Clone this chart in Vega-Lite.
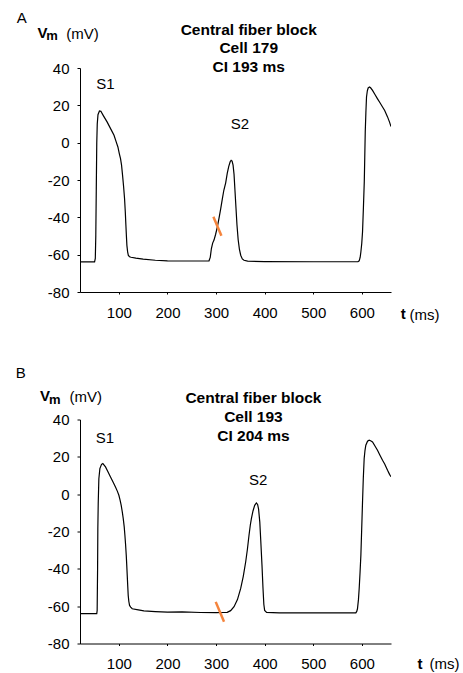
{
  "$schema": "https://vega.github.io/schema/vega-lite/v6.json",
  "autosize": {"type": "pad"},
  "padding": {"left": 15, "top": 10, "right": 4, "bottom": 4},
  "background": "white",
  "bounds": "flush",
  "spacing": 127.5,
  "config": {
    "view": {"stroke": null},
    "font": "Liberation Sans",
    "axis": {"domainColor": "#000", "tickColor": "#000", "labelColor": "#000", "titleColor": "#000", "labelFontSize": 15, "titleFontSize": 15, "titleFontWeight": "normal", "grid": false, "labelFont": "Liberation Sans", "titleFont": "Liberation Sans", "domainWidth": 1, "tickWidth": 1, "labelExpr": "toString(datum.value)"},
    "axisX": {"tickSize": 2, "labelPadding": 11},
    "axisY": {"tickSize": 3, "labelPadding": 8},
    "text": {"font": "Liberation Sans", "color": "#000"}
  },
  "datasets": {
    "traceA": [
      {"t":20,"v":-63.9},{"t":50,"v":-63.9},{"t":51.5,"v":-62},{"t":52.5,"v":-50},{"t":53.5,"v":-25},{"t":54.5,"v":0},{"t":55.5,"v":10},{"t":57,"v":15},{"t":60,"v":17},{"t":63,"v":16.8},{"t":68,"v":14.5},{"t":76,"v":11},{"t":84,"v":7},{"t":90,"v":4},{"t":95,"v":0},{"t":98,"v":-2.3},{"t":101,"v":-6},{"t":103.4,"v":-8.6},{"t":105.5,"v":-12},{"t":107.6,"v":-17.5},{"t":109.7,"v":-23.5},{"t":111.7,"v":-30},{"t":113.2,"v":-37},{"t":114.4,"v":-44},{"t":115.5,"v":-50},{"t":116.5,"v":-55},{"t":118,"v":-58.5},{"t":119.5,"v":-60.4},{"t":122,"v":-61.1},{"t":125,"v":-61.4},{"t":135,"v":-61.9},{"t":150,"v":-62.4},{"t":175,"v":-63},{"t":200,"v":-63.3},{"t":250,"v":-63.4},{"t":285.5,"v":-63.3},{"t":288,"v":-61.5},{"t":290.4,"v":-56.7},{"t":293,"v":-53.8},{"t":295.8,"v":-52.2},{"t":299,"v":-49.2},{"t":302.8,"v":-45},{"t":306,"v":-40.5},{"t":309.6,"v":-35.3},{"t":313,"v":-30},{"t":316,"v":-25.5},{"t":319.8,"v":-21.5},{"t":323,"v":-16.5},{"t":326,"v":-12.8},{"t":329,"v":-10.2},{"t":331,"v":-9.5},{"t":333,"v":-9.9},{"t":335,"v":-12},{"t":337,"v":-17},{"t":339,"v":-26},{"t":341,"v":-35},{"t":343,"v":-44},{"t":345.5,"v":-52},{"t":348,"v":-57},{"t":350.7,"v":-60.3},{"t":354,"v":-62.3},{"t":357.5,"v":-63},{"t":365,"v":-63.5},{"t":400,"v":-63.7},{"t":500,"v":-63.8},{"t":592,"v":-63.8},{"t":594.5,"v":-63.3},{"t":596.5,"v":-61.5},{"t":598,"v":-58.6},{"t":599.8,"v":-54},{"t":601.4,"v":-47.9},{"t":603.2,"v":-35},{"t":605,"v":-21},{"t":606,"v":-8},{"t":607,"v":5.7},{"t":608.3,"v":16},{"t":609.6,"v":24.5},{"t":611.3,"v":27.8},{"t":613,"v":29.3},{"t":615.8,"v":29.8},{"t":618,"v":29.4},{"t":622,"v":28},{"t":627,"v":25.8},{"t":632,"v":23.6},{"t":637,"v":21.5},{"t":642.6,"v":19.1},{"t":647,"v":17.2},{"t":652.9,"v":13.8},{"t":657,"v":11},{"t":660,"v":8.6}
    ],
    "traceB": [
      {"t":20,"v":-64},{"t":54.5,"v":-64},{"t":55.3,"v":-62.3},{"t":56.2,"v":-40},{"t":56.7,"v":-18.5},{"t":57.5,"v":-5},{"t":58.8,"v":8.3},{"t":60.9,"v":13.7},{"t":64.3,"v":16},{"t":67,"v":16.4},{"t":72.5,"v":14.6},{"t":77,"v":12.3},{"t":82.8,"v":9.2},{"t":88,"v":6.5},{"t":93,"v":3.8},{"t":97,"v":1.5},{"t":100,"v":-0.6},{"t":102.5,"v":-3.2},{"t":104.8,"v":-6},{"t":107,"v":-9.5},{"t":109,"v":-13.1},{"t":111,"v":-17.5},{"t":112.4,"v":-22},{"t":113.8,"v":-27},{"t":115.2,"v":-32.8},{"t":116.2,"v":-38},{"t":117.2,"v":-43.5},{"t":118.2,"v":-49},{"t":119.2,"v":-54.2},{"t":120.5,"v":-57.5},{"t":122,"v":-59.6},{"t":124.3,"v":-60.5},{"t":127.5,"v":-61.4},{"t":140,"v":-62},{"t":151.5,"v":-62.5},{"t":175,"v":-62.9},{"t":200,"v":-63.2},{"t":230,"v":-63.1},{"t":268,"v":-63.4},{"t":300,"v":-63.5},{"t":316,"v":-63.4},{"t":323,"v":-63.3},{"t":330,"v":-62.4},{"t":337,"v":-60.3},{"t":344,"v":-56.5},{"t":350.7,"v":-50.5},{"t":356,"v":-44},{"t":361,"v":-36.2},{"t":364.5,"v":-29.5},{"t":367.8,"v":-22},{"t":370.5,"v":-16.5},{"t":372.7,"v":-13.1},{"t":376,"v":-9},{"t":379.5,"v":-6},{"t":383,"v":-4.7},{"t":385.5,"v":-5.5},{"t":387.5,"v":-8},{"t":390,"v":-15},{"t":392,"v":-25},{"t":394.5,"v":-38},{"t":396.5,"v":-50},{"t":398.3,"v":-59},{"t":400,"v":-62.3},{"t":404,"v":-63.3},{"t":430,"v":-63.6},{"t":500,"v":-63.6},{"t":587.6,"v":-63.6},{"t":589.5,"v":-62.8},{"t":591,"v":-61.4},{"t":593,"v":-56.5},{"t":594.5,"v":-50.7},{"t":596.3,"v":-42},{"t":598,"v":-32.8},{"t":599.7,"v":-18.5},{"t":601.4,"v":-4.2},{"t":603,"v":8.5},{"t":604.8,"v":19.1},{"t":606.5,"v":23.5},{"t":608.2,"v":26.2},{"t":611.7,"v":28.4},{"t":615,"v":28.9},{"t":618,"v":28.6},{"t":622,"v":28},{"t":627,"v":25.8},{"t":632.2,"v":23.5},{"t":637,"v":21},{"t":642.6,"v":18.2},{"t":647,"v":16.2},{"t":652.9,"v":12.8},{"t":657,"v":10.6},{"t":660,"v":9.3}
    ],
    "slashA": [{"t":294.5,"v":-39.7},{"t":311,"v":-49.9}],
    "slashB": [{"t":299.3,"v":-57.7},{"t":316.4,"v":-68.4}],
    "labelsA": [
      {"role":"panel","label":"A","t":-110.3,"v":64.2},
      {"role":"axis","label":"V","t":-67.7,"v":56.3},
      {"role":"sub","label":"m","t":-49.2,"v":54.9},
      {"role":"axis","label":"t","t":680,"v":-94.6},
      {"role":"peak","label":"S1","t":72.3,"v":29.0},
      {"role":"peak","label":"S2","t":349.1,"v":7.2},
      {"role":"title","label":"Central fiber block","t":367.2,"v":57.6},
      {"role":"title","label":"Cell 179","t":367.2,"v":47.8},
      {"role":"title","label":"CI 193 ms","t":367.2,"v":38.0}
    ],
    "labelsB": [
      {"role":"panel","label":"B","t":-112.3,"v":62.3},
      {"role":"axis","label":"V","t":-62.3,"v":49.8},
      {"role":"sub","label":"m","t":-43.8,"v":48.4},
      {"role":"axis","label":"t","t":714.4,"v":-93.6},
      {"role":"peak","label":"S1","t":71.2,"v":27.5},
      {"role":"peak","label":"S2","t":386.7,"v":4.8},
      {"role":"title","label":"Central fiber block","t":376.9,"v":48.6},
      {"role":"title","label":"Cell 193","t":376.9,"v":38.4},
      {"role":"title","label":"CI 204 ms","t":376.9,"v":28.4}
    ]
  },
  "vconcat": [
    {
      "width": 311, "height": 224,
      "encoding": {
        "x": {"field": "t", "type": "quantitative", "scale": {"domain": [20, 660], "nice": false, "zero": false},
              "axis": {"values": [100, 200, 300, 400, 500, 600], "title": "(ms)", "titleX": 329, "titleY": 27.2, "titleAlign": "left", "titleBaseline": "alphabetic", "titleAngle": 0}},
        "y": {"field": "v", "type": "quantitative", "scale": {"domain": [-80, 40], "nice": false, "zero": false},
              "axis": {"values": [-80, -60, -40, -20, 0, 20, 40], "title": "(mV)", "titleX": -14.3, "titleY": -29.8, "titleAlign": "left", "titleBaseline": "alphabetic", "titleAngle": 0}}
      },
      "layer": [
        {"data": {"name": "traceA"}, "mark": {"type": "line", "color": "#000", "strokeWidth": 1.2, "clip": true}, "encoding": {}},
        {"data": {"name": "slashA"}, "mark": {"type": "line", "color": "#f5843c", "strokeWidth": 2.5}, "encoding": {}},
        {"data": {"name": "labelsA"}, "transform": [{"filter": "datum.role === 'peak'"}], "mark": {"type": "text", "fontSize": 15, "align": "center", "baseline": "alphabetic"}, "encoding": {"text": {"field": "label"}}},
        {"data": {"name": "labelsA"}, "transform": [{"filter": "datum.role === 'panel'"}], "mark": {"type": "text", "fontSize": 15, "align": "left", "baseline": "alphabetic"}, "encoding": {"text": {"field": "label"}}},
        {"data": {"name": "labelsA"}, "transform": [{"filter": "datum.role === 'axis'"}], "mark": {"type": "text", "fontSize": 15, "fontWeight": "bold", "align": "left", "baseline": "alphabetic"}, "encoding": {"text": {"field": "label"}}},
        {"data": {"name": "labelsA"}, "transform": [{"filter": "datum.role === 'sub'"}], "mark": {"type": "text", "fontSize": 13, "fontWeight": "bold", "align": "left", "baseline": "alphabetic"}, "encoding": {"text": {"field": "label"}}},
        {"data": {"name": "labelsA"}, "transform": [{"filter": "datum.role === 'title'"}], "mark": {"type": "text", "fontSize": 15.5, "fontWeight": "bold", "align": "center", "baseline": "alphabetic"}, "encoding": {"text": {"field": "label"}}}
      ]
    },
    {
      "width": 311, "height": 224,
      "encoding": {
        "x": {"field": "t", "type": "quantitative", "scale": {"domain": [20, 660], "nice": false, "zero": false},
              "axis": {"values": [100, 200, 300, 400, 500, 600], "title": "(ms)", "titleX": 349, "titleY": 25.3, "titleAlign": "left", "titleBaseline": "alphabetic", "titleAngle": 0}},
        "y": {"field": "v", "type": "quantitative", "scale": {"domain": [-80, 40], "nice": false, "zero": false},
              "axis": {"values": [-80, -60, -40, -20, 0, 20, 40], "title": "(mV)", "titleX": -11, "titleY": -18.5, "titleAlign": "left", "titleBaseline": "alphabetic", "titleAngle": 0}}
      },
      "layer": [
        {"data": {"name": "traceB"}, "mark": {"type": "line", "color": "#000", "strokeWidth": 1.2, "clip": true}, "encoding": {}},
        {"data": {"name": "slashB"}, "mark": {"type": "line", "color": "#f5843c", "strokeWidth": 2.5}, "encoding": {}},
        {"data": {"name": "labelsB"}, "transform": [{"filter": "datum.role === 'peak'"}], "mark": {"type": "text", "fontSize": 15, "align": "center", "baseline": "alphabetic"}, "encoding": {"text": {"field": "label"}}},
        {"data": {"name": "labelsB"}, "transform": [{"filter": "datum.role === 'panel'"}], "mark": {"type": "text", "fontSize": 15, "align": "left", "baseline": "alphabetic"}, "encoding": {"text": {"field": "label"}}},
        {"data": {"name": "labelsB"}, "transform": [{"filter": "datum.role === 'axis'"}], "mark": {"type": "text", "fontSize": 15, "fontWeight": "bold", "align": "left", "baseline": "alphabetic"}, "encoding": {"text": {"field": "label"}}},
        {"data": {"name": "labelsB"}, "transform": [{"filter": "datum.role === 'sub'"}], "mark": {"type": "text", "fontSize": 13, "fontWeight": "bold", "align": "left", "baseline": "alphabetic"}, "encoding": {"text": {"field": "label"}}},
        {"data": {"name": "labelsB"}, "transform": [{"filter": "datum.role === 'title'"}], "mark": {"type": "text", "fontSize": 15.5, "fontWeight": "bold", "align": "center", "baseline": "alphabetic"}, "encoding": {"text": {"field": "label"}}}
      ]
    }
  ]
}
